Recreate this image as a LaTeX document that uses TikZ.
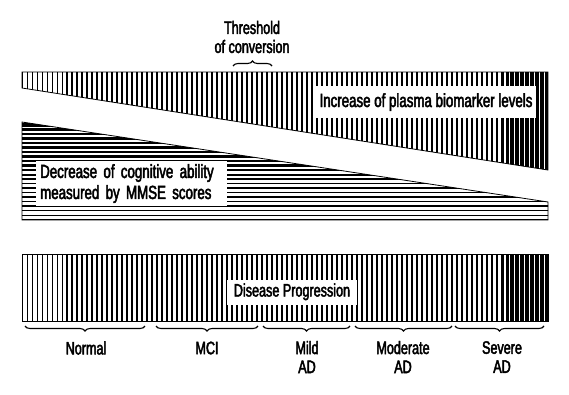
\documentclass[tikz,border=0pt]{standalone}
\usepackage{fontspec}
\setmainfont{Liberation Sans}[FakeStretch=0.7, FakeBold=2.5]
\usetikzlibrary{decorations.pathreplacing}

\begin{document}
\begin{tikzpicture}[x=1pt, y=-1pt,
    stagelabel/.style={font=\fontsize{18}{19}\selectfont, align=center, inner sep=0pt},
    tag/.style={fill=white, font=\fontsize{19}{21}\selectfont, text height=14pt, text depth=4pt, inner xsep=4pt, inner ysep=7pt},
    smalltag/.style={fill=white, font=\fontsize{18}{19}\selectfont, text height=13pt, text depth=4pt, inner xsep=7pt, inner ysep=4pt},
    bracket/.style={decorate, decoration={brace, amplitude=5pt}, line width=1.1pt},
    outline/.style={draw=black, line width=0.8pt}
]
\useasboundingbox (0,0) rectangle (569,394);

% plasma biomarker wedge
\begin{scope}
    \clip (22,72) -- (548,72) -- (548,170) -- (22,88) -- cycle;
    \foreach \i in {0,...,105}
        \draw[line width={0.8+2.4*\i/105}] ({22+5*\i},60) -- ({22+5*\i},180);
\end{scope}
\draw[outline] (22,72) -- (548,72) -- (548,170) -- (22,88) -- cycle;
\node[tag] (biomarker) at (426,102) {Increase of plasma biomarker levels};

% cognitive ability wedge
\begin{scope}
    \clip (22,122) -- (548,202) -- (548,220) -- (22,220) -- cycle;
    \foreach \j in {0,...,22}
        \draw[line width={0.9+2.4*\j/22}] (10,{219.5-4.5*\j}) -- (560,{219.5-4.5*\j});
\end{scope}
\draw[outline] (22,122) -- (548,202) -- (548,220) -- (22,220) -- cycle;
\node[fill=white, anchor=north west, font=\fontsize{19}{21}\selectfont, align=left,
    text width=183pt, inner xsep=4pt, inner ysep=3pt] (mmse) at (36,161)
    {Decrease of cognitive ability\\measured by MMSE scores};

% disease progression bar
\begin{scope}
    \clip (22,254) rectangle (548,321);
    \foreach \i in {0,...,105}
        \draw[line width={0.8+2.4*\i/105}] ({22+5*\i},250) -- ({22+5*\i},325);
\end{scope}
\draw[outline] (22,254) rectangle (548,321);
\node[smalltag] (progress) at (292,292) {Disease Progression};

% threshold
\draw[bracket] (233,66) -- (272,66);
\node[stagelabel] (threshold) at (252,37) {Threshold\\of conversion};

% stages
\draw[bracket] (145,326) -- (25,326);
\draw[bracket] (258,326) -- (156,326);
\draw[bracket] (350,326) -- (263,326);
\draw[bracket] (452,326) -- (355,326);
\draw[bracket] (544,326) -- (455,326);
\node[stagelabel] (normal)   at (86,348)  {Normal};
\node[stagelabel] (mci)      at (207,348) {MCI};
\node[stagelabel] (mild)     at (307,357) {Mild\\AD};
\node[stagelabel] (moderate) at (403,357) {Moderate\\AD};
\node[stagelabel] (severe)   at (502,357) {Severe\\AD};
\end{tikzpicture}
\end{document}
